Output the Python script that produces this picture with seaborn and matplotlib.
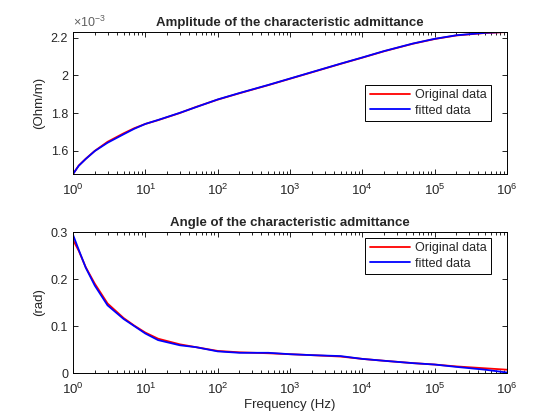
import numpy as np
import pandas as pd
import matplotlib
matplotlib.use("Agg")
import matplotlib.pyplot as plt
import matplotlib.ticker as mticker
import seaborn as sns

# ---------------- data ----------------
freq = [1, 1.2, 1.5, 2, 3, 5, 7, 10, 15, 30, 50, 100, 200, 500, 1e3, 2e3,
        5e3, 1e4, 2e4, 5e4, 1e5, 2e5, 5e5, 1e6]

amp_orig = [1.476, 1.521, 1.557, 1.599, 1.647, 1.692, 1.719, 1.742, 1.762,
            1.800, 1.832, 1.871, 1.905, 1.948, 1.982, 2.016, 2.061, 2.094,
            2.128, 2.168, 2.193, 2.212, 2.225, 2.230]
amp_fit = [1.476, 1.520, 1.556, 1.598, 1.642, 1.687, 1.716, 1.742, 1.763,
           1.801, 1.831, 1.872, 1.906, 1.949, 1.983, 2.017, 2.062, 2.095,
           2.129, 2.169, 2.194, 2.213, 2.226, 2.231]

ang_orig = [0.283, 0.260, 0.225, 0.190, 0.148, 0.117, 0.101, 0.086, 0.073,
            0.061, 0.055, 0.047, 0.044, 0.042, 0.040, 0.038, 0.035, 0.030,
            0.026, 0.021, 0.018, 0.014, 0.010, 0.007]
ang_fit = [0.294, 0.262, 0.224, 0.186, 0.144, 0.115, 0.100, 0.084, 0.070,
           0.059, 0.055, 0.046, 0.043, 0.043, 0.040, 0.038, 0.036, 0.030,
           0.026, 0.021, 0.018, 0.013, 0.007, 0.001]

series_names = ["Original data", "fitted data"]
series_colors = ["red", "blue"]

titles = ["Amplitude of the characteristic admittance",
          "Angle of the characteristic admittance"]
ylabels = ["(Ohm/m)", "(rad)"]
xlabel = "Frequency (Hz)"
x_major_ticks = [1, 10, 100, 1e3, 1e4, 1e5, 1e6]
amp_ticks = [1.6, 1.8, 2.0, 2.2]
ang_ticks = [0, 0.1, 0.2, 0.3]
amp_scale = 1e-3

# ---------------- style ----------------
sns.set_theme(style="ticks")
plt.rcParams["font.family"] = ["Liberation Sans", "DejaVu Sans"]
plt.rcParams["mathtext.fontset"] = "custom"
plt.rcParams["mathtext.rm"] = "Liberation Sans"
plt.rcParams["mathtext.it"] = "Liberation Sans:italic"
plt.rcParams["mathtext.bf"] = "Liberation Sans:bold"

tick_gray = "#262626"

n = len(freq)
df_amp = pd.DataFrame({
    "f": freq * 2,
    "v": [a * amp_scale for a in amp_orig] + [a * amp_scale for a in amp_fit],
    "s": [series_names[0]] * n + [series_names[1]] * n,
})
df_ang = pd.DataFrame({
    "f": freq * 2,
    "v": ang_orig + ang_fit,
    "s": [series_names[0]] * n + [series_names[1]] * n,
})

fig = plt.figure(figsize=(5.6, 4.2), dpi=100)
ax1 = fig.add_axes([0.1304, 0.5857, 0.775, 0.338])
ax2 = fig.add_axes([0.1304, 0.1119, 0.775, 0.3357])

palette = dict(zip(series_names, series_colors))

for ax, df in [(ax1, df_amp), (ax2, df_ang)]:
    sns.lineplot(data=df, x="f", y="v", hue="s", palette=palette,
                 hue_order=series_names, linewidth=1.3, ax=ax,
                 estimator=None, sort=False)
    ax.set_xscale("log")
    ax.set_xlim(1, 1e6)
    ax.xaxis.set_major_locator(mticker.FixedLocator(x_major_ticks))
    ax.xaxis.set_major_formatter(mticker.LogFormatterSciNotation())
    minors = [m * 10 ** e for e in range(0, 6) for m in range(2, 10)]
    ax.xaxis.set_minor_locator(mticker.FixedLocator(minors))
    ax.xaxis.set_minor_formatter(mticker.NullFormatter())
    ax.tick_params(which="both", direction="in", top=True, right=True,
                   labelsize=9, colors="black", labelcolor=tick_gray, width=0.6)
    ax.tick_params(which="major", length=3.5)
    ax.tick_params(which="minor", length=2)
    ax.tick_params(axis="x", which="major", labelsize=9.5, pad=6)
    for sp in ax.spines.values():
        sp.set_visible(True)
        sp.set_linewidth(0.7)
        sp.set_color("black")
    ax.set_xlabel("")

ax1.set_ylim(1.476e-3, 2.230e-3)
ax1.set_yticks([t * amp_scale for t in amp_ticks])
ax1.yaxis.set_major_formatter(mticker.FuncFormatter(lambda v, p: "%g" % round(v / amp_scale, 4)))
ax1.text(0.0, 1.012, r"$\times10^{-3}$", transform=ax1.transAxes, ha="left",
         va="bottom", fontsize=9, color="#606060")

ax2.set_ylim(0, 0.3)
ax2.set_yticks(ang_ticks)
ax2.yaxis.set_major_formatter(mticker.FuncFormatter(lambda v, p: "%g" % round(v, 4)))

ax1.set_title(titles[0], fontsize=9.5, fontweight="bold", pad=4)
ax2.set_title(titles[1], fontsize=9.5, fontweight="bold", pad=4)
ax1.set_ylabel(ylabels[0], fontsize=9.5, color=tick_gray)
ax2.set_ylabel(ylabels[1], fontsize=9.5, color=tick_gray)
ax2.set_xlabel(xlabel, fontsize=9.5, color=tick_gray, labelpad=2)

leg_kw = dict(fontsize=9, frameon=True, fancybox=False, framealpha=1,
              edgecolor="black", borderaxespad=0, handlelength=3.2,
              labelspacing=0.25, borderpad=0.35, handletextpad=0.4)
l1 = ax1.legend(loc="center right", bbox_to_anchor=(0.963, 0.5), **leg_kw)
l2 = ax2.legend(loc="upper right", bbox_to_anchor=(0.963, 0.957), **leg_kw)
for l in (l1, l2):
    l.get_frame().set_linewidth(0.7)

fig.savefig("out.png", dpi=100, facecolor="white")
